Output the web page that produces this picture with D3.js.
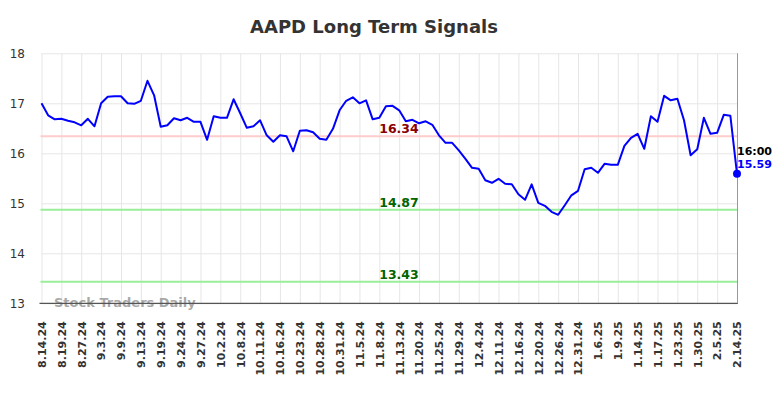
<!DOCTYPE html>
<html>
    <head>
        <title>AAPD Long Term Signals</title>
        <script src="https://cdnjs.cloudflare.com/ajax/libs/d3/7.8.5/d3.min.js"></script>
        <style>
            body {
                margin: 0;
                background: #fff;
                font-family: "DejaVu Sans", sans-serif;
            }
            .grid line {
                stroke: #e6e6e6;
                stroke-width: 1;
            }
            .grid path {
                display: none;
            }
            .axis text {
                fill: #333;
            }
        </style>
    </head>
    <body>
        <script>

        var w = 784;
        var h = 398;

        // tick labels, one every 3rd point
        var tickLabels = ["8.14.24", "8.19.24", "8.27.24", "9.3.24", "9.9.24", "9.13.24",
            "9.19.24", "9.24.24", "9.27.24", "10.2.24", "10.8.24", "10.11.24",
            "10.16.24", "10.23.24", "10.28.24", "10.31.24", "11.5.24", "11.8.24",
            "11.13.24", "11.20.24", "11.25.24", "11.29.24", "12.4.24", "12.11.24",
            "12.16.24", "12.20.24", "12.26.24", "12.31.24", "1.6.25", "1.9.25",
            "1.14.25", "1.17.25", "1.23.25", "1.30.25", "2.5.25", "2.14.25"];
        var labelStep = 3;

        // closing prices
        var prices = [17.00, 16.76, 16.68, 16.69, 16.65, 16.62, 16.56, 16.69, 16.54, 17.00,
            17.13, 17.14, 17.14, 17.00, 16.99, 17.05, 17.45, 17.16, 16.53, 16.56,
            16.70, 16.66, 16.71, 16.63, 16.63, 16.27, 16.74, 16.71, 16.71, 17.08,
            16.80, 16.51, 16.54, 16.66, 16.36, 16.23, 16.36, 16.34, 16.04, 16.45,
            16.46, 16.42, 16.29, 16.27, 16.49, 16.86, 17.05, 17.12, 17.00, 17.06,
            16.68, 16.71, 16.94, 16.95, 16.86, 16.64, 16.67, 16.60, 16.64, 16.57,
            16.36, 16.21, 16.21, 16.06, 15.89, 15.71, 15.69, 15.46, 15.41, 15.49,
            15.39, 15.38, 15.18, 15.07, 15.38, 15.01, 14.95, 14.83, 14.77, 14.96,
            15.16, 15.25, 15.68, 15.71, 15.61, 15.79, 15.77, 15.77, 16.15, 16.31,
            16.39, 16.09, 16.74, 16.63, 17.15, 17.06, 17.09, 16.66, 15.96, 16.08,
            16.71, 16.39, 16.41, 16.77, 16.75, 15.59];

        // signal levels
        var levels = [16.34, 14.87, 13.43];
        var levelLines = ["#ffcccc", "#99ee99", "#99ee99"];
        var levelText = ["#8b0000", "#006400", "#006400"];

        var yTicks = [13, 14, 15, 16, 17, 18];
        var lastTime = "16:00";

        var plotL = 41.5, plotR = 737, plotT = 53.3, plotB = 303.3;

        var xScale = d3.scaleLinear()
                       .domain([0, prices.length - 1])
                       .range([plotL, plotR]);

        var yScale = d3.scaleLinear()
                       .domain([13, 18])
                       .range([plotB, plotT]);

        var tickIdx = d3.range(0, prices.length, labelStep);

        var svg = d3.select("body")
                    .append("svg")
                    .attr("width", w)
                    .attr("height", h);

        // grid
        svg.append("g")
            .attr("class", "grid")
            .attr("transform", "translate(0," + plotB + ")")
            .call(d3.axisBottom(xScale).tickValues(tickIdx).tickSize(-(plotB - plotT)).tickFormat(""));

        svg.append("g")
            .attr("class", "grid")
            .attr("transform", "translate(" + plotL + ",0)")
            .call(d3.axisLeft(yScale).tickValues(yTicks).tickSize(-(plotR - plotL)).tickFormat(""));

        // signal lines
        levels.forEach(function(v, i) {
            svg.append("line")
                .attr("x1", plotL - 1)
                .attr("x2", plotR + 1)
                .attr("y1", yScale(v))
                .attr("y2", yScale(v))
                .attr("stroke", levelLines[i])
                .attr("stroke-width", 2);
            svg.append("text")
                .attr("x", 399)
                .attr("y", yScale(v) - 3)
                .attr("text-anchor", "middle")
                .attr("font-size", "12.5px")
                .attr("font-weight", "bold")
                .attr("fill", levelText[i])
                .text(v.toFixed(2));
        });

        // watermark
        svg.append("text")
            .attr("x", 54)
            .attr("y", 306.5)
            .attr("font-size", "13px")
            .attr("font-weight", "bold")
            .attr("fill", "#999")
            .attr("fill-opacity", 0.85)
            .text("Stock Traders Daily");

        // axis frame
        svg.append("line")
            .attr("x1", plotL - 2).attr("x2", plotR + 1)
            .attr("y1", plotB).attr("y2", plotB)
            .attr("stroke", "#555").attr("stroke-width", 1.2);
        svg.append("line")
            .attr("x1", plotR + 0.5).attr("x2", plotR + 0.5)
            .attr("y1", plotT).attr("y2", plotB)
            .attr("stroke", "#999").attr("stroke-width", 1);

        // y labels
        svg.append("g")
            .attr("class", "axis")
            .selectAll("text")
            .data(yTicks)
            .enter()
            .append("text")
            .attr("x", 25)
            .attr("y", function(d) { return yScale(d); })
            .attr("dy", "0.35em")
            .attr("text-anchor", "end")
            .attr("font-size", "12px")
            .text(function(d) { return d; });

        // x labels
        var xAxis = d3.axisBottom(xScale)
                      .tickValues(tickIdx)
                      .tickSize(0)
                      .tickFormat(function(d) { return tickLabels[d / labelStep]; });

        var xg = svg.append("g")
            .attr("class", "axis")
            .attr("transform", "translate(0," + plotB + ")")
            .call(xAxis);
        xg.select(".domain").remove();
        xg.selectAll("text")
            .attr("font-family", "DejaVu Sans")
            .attr("font-size", "11px")
            .attr("font-weight", "bold")
            .attr("text-anchor", "end")
            .attr("transform", "translate(0,18) rotate(-90)")
            .attr("x", 0)
            .attr("y", 0)
            .attr("dy", "0.35em");

        // price line
        var line = d3.line()
            .x(function(d, i) { return xScale(i); })
            .y(function(d) { return yScale(d); });

        svg.append("path")
            .datum(prices)
            .attr("d", line)
            .attr("fill", "none")
            .attr("stroke", "#0000ff")
            .attr("stroke-width", 2)
            .attr("stroke-linejoin", "round");

        var lastI = prices.length - 1;
        svg.append("circle")
            .attr("cx", xScale(lastI))
            .attr("cy", yScale(prices[lastI]))
            .attr("r", 4)
            .attr("fill", "#0000ff");

        svg.append("text")
            .attr("x", xScale(lastI))
            .attr("y", yScale(prices[lastI]) - 19)
            .attr("font-size", "11px")
            .attr("font-weight", "bold")
            .attr("fill", "#000")
            .text(lastTime);
        svg.append("text")
            .attr("x", xScale(lastI))
            .attr("y", yScale(prices[lastI]) - 6)
            .attr("font-size", "11px")
            .attr("font-weight", "bold")
            .attr("fill", "#0000ff")
            .text(prices[lastI].toFixed(2));

        // title
        svg.append("text")
            .attr("x", 374)
            .attr("y", 33)
            .attr("text-anchor", "middle")
            .attr("font-size", "18px")
            .attr("font-weight", "bold")
            .attr("fill", "#333")
            .text("AAPD Long Term Signals");

        </script>
    </body>
</html>
